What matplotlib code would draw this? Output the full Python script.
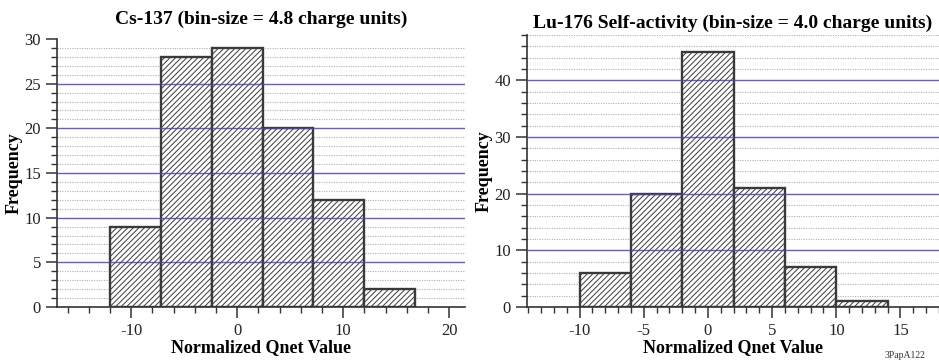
import matplotlib
matplotlib.use("Agg")
import matplotlib.pyplot as plt
from matplotlib.ticker import MultipleLocator
import numpy as np

plt.rcParams['font.family'] = ['Liberation Serif', 'DejaVu Serif']
plt.rcParams['axes.unicode_minus'] = False
plt.rcParams['hatch.linewidth'] = 0.7
plt.rcParams['hatch.color'] = '#333333'

# Cs-137 histogram
cs_edges = [-12.0, -7.2, -2.4, 2.4, 7.2, 12.0, 16.8]
cs_counts = [9, 28, 29, 20, 12, 2]
cs_title = "Cs-137 (bin-size = 4.8 charge units)"

# Lu-176 histogram
lu_edges = [-10, -6, -2, 2, 6, 10, 14]
lu_counts = [6, 20, 45, 21, 7, 1]
lu_title = "Lu-176 Self-activity (bin-size = 4.0 charge units)"

xlabel = "Normalized Qnet Value"
ylabel = "Frequency"

fig = plt.figure(figsize=(9.39, 3.62), dpi=100)
ax1 = fig.add_axes([57/939, 55/362, 408/939, 268/362])
ax2 = fig.add_axes([527/939, 55/362, 412/939, 272/362])


def draw(ax, edges, counts, title, xlim, ylim, xmaj, xmin, ymaj, ymin,
         ygrid_major, title_pad):
    edges = np.asarray(edges)
    widths = np.diff(edges)
    ax.set_xlim(*xlim)
    ax.set_ylim(*ylim)
    # dotted minor grid
    for y in np.arange(ymin, ylim[1] + 0.01, ymin):
        if abs(y / ymaj - round(y / ymaj)) > 1e-6:
            ax.axhline(y, color='#b0b0b0', lw=0.8, ls=(0, (1, 1.2)), zorder=0.5)
    ax.bar(edges[:-1], counts, width=widths, align='edge', facecolor='white',
           edgecolor='#3a3a3a', linewidth=1.7, hatch='//////', zorder=2)
    for y in ygrid_major:
        ax.axhline(y, color='#4646b0', lw=1.0, alpha=0.85, zorder=3)
    ax.spines['top'].set_visible(False)
    ax.spines['right'].set_visible(False)
    ax.spines['left'].set_color('#333333')
    ax.spines['bottom'].set_color('#333333')
    ax.spines['left'].set_linewidth(1.2)
    ax.spines['bottom'].set_linewidth(1.2)
    ax.xaxis.set_major_locator(MultipleLocator(xmaj))
    ax.xaxis.set_minor_locator(MultipleLocator(xmin))
    ax.yaxis.set_major_locator(MultipleLocator(ymaj))
    ax.yaxis.set_minor_locator(MultipleLocator(ymin))
    ax.tick_params(which='major', length=8, width=1.1, color='#333333',
                   labelsize=12, labelcolor='#222222')
    ax.tick_params(which='minor', length=4, width=1.0, color='#333333')
    ax.set_title(title, fontsize=14, fontweight='bold', pad=title_pad)
    ax.set_xlabel(xlabel, fontsize=13, fontweight='bold', labelpad=0)
    ax.set_ylabel(ylabel, fontsize=13, fontweight='bold', labelpad=1)


draw(ax1, cs_edges, cs_counts, cs_title, (-17, 21.5), (0, 30), 10, 2, 5, 1,
     [5, 10, 15, 20, 25], 11)
draw(ax2, lu_edges, lu_counts, lu_title, (-14.1, 18), (0, 48), 5, 1, 10, 2,
     [10, 20, 30, 40], 5)

fig.text(905/939, 1 - 355/362, "3PapA122", fontsize=7, ha='center', va='center',
         color='#333333')

fig.savefig("out.png", dpi=100)
